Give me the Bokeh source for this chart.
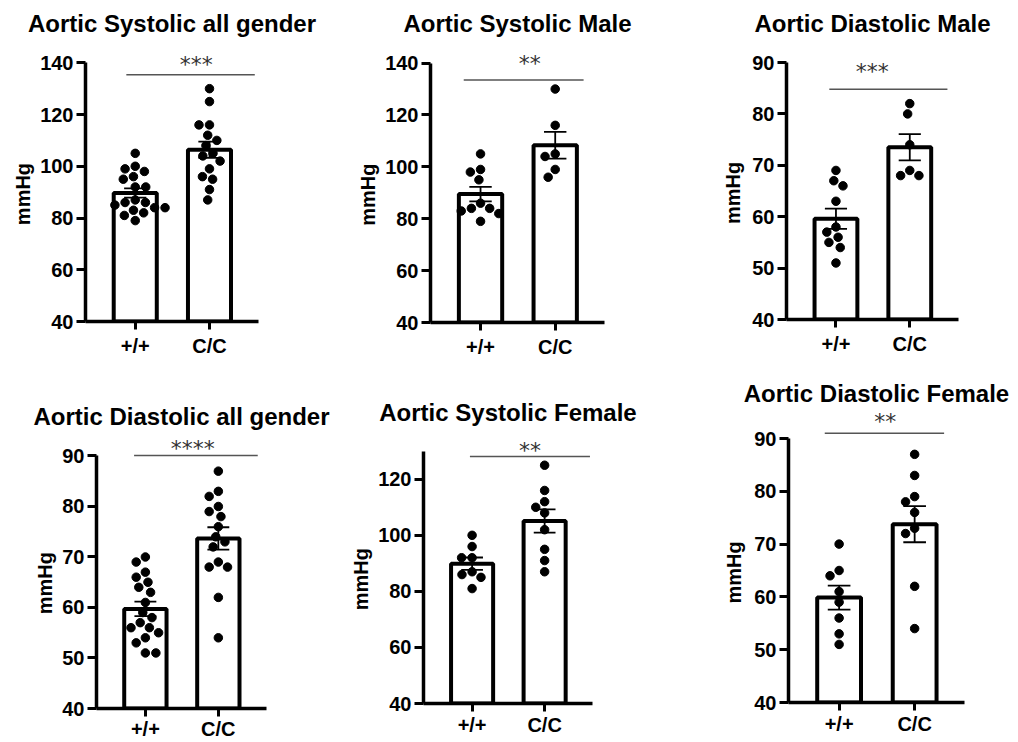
import numpy as np
from bokeh.plotting import figure
from bokeh.models import Range1d, FixedTicker, Label, Title
from bokeh.layouts import row, column
from bokeh.embed import file_html
from bokeh.resources import INLINE

# ---------------- data (mmHg) ----------------
groups = ["+/+", "C/C"]

sys_all_wt = [105, 100, 99, 98, 96, 95, 92, 92, 87, 86, 86, 85, 84, 84, 83, 82, 81, 79]
sys_all_cc = [130, 125, 116, 116, 112, 110, 108, 105, 104, 102, 99, 96, 95, 91, 87]

sys_male_wt = [105, 99, 98, 95, 86, 84, 84, 83, 82, 79]
sys_male_cc = [130, 116, 105, 104, 99, 96]

dia_male_wt = [69, 67, 66, 63, 58, 57, 56, 55, 54, 51]
dia_male_cc = [82, 80, 74, 69, 68, 68]

dia_all_wt = [70, 69, 67, 66, 65, 64, 63, 61, 59, 58, 57, 56, 56, 55, 54, 53, 51, 51]
dia_all_cc = [87, 83, 82, 80, 79, 78, 76, 74, 73, 72, 69, 68, 68, 62, 54]

sys_fem_wt = [100, 96, 92, 92, 87, 86, 85, 81]
sys_fem_cc = [125, 116, 112, 110, 108, 102, 95, 91, 87]

dia_fem_wt = [70, 65, 64, 61, 59, 56, 53, 51]
dia_fem_cc = [87, 83, 79, 78, 76, 73, 72, 62, 54]

titles = ["Aortic Systolic all gender", "Aortic Systolic Male", "Aortic Diastolic Male",
          "Aortic Diastolic all gender", "Aortic Systolic Female", "Aortic Diastolic Female"]
stars = ["***", "**", "***", "****", "**", "**"]
y_label = "mmHg"
sys_ticks = [40, 60, 80, 100, 120, 140]
sys_fem_ticks = [40, 60, 80, 100, 120]
dia_ticks = [40, 50, 60, 70, 80, 90]

# ---------------- layout / style config ----------------
FONT = "Liberation Sans"
X_START, X_END = 0.33, 2.66
BAR_W = 0.58
CAP = 0.15
YLAB_HALF_LEN = 31   # half the length (px) of the rotated "mmHg" label

cfg = [
    dict(wt=sys_all_wt, cc=sys_all_cc, ticks=sys_ticks, ytop=140, W=340, H=370, L=85, R=82, T=42, B=49,
         ppu=2.587, tstand=12, xlab=5, ystand=7, line=(0.88, 2.61, 135.4), star=(1.82, 140.5)),
    dict(wt=sys_male_wt, cc=sys_male_cc, ticks=sys_ticks, ytop=140, W=340, H=370, L=90, R=76, T=42, B=48,
         ppu=2.594, tstand=12, xlab=5, ystand=7, line=(0.775, 2.38, 133.5), star=(1.66, 140.9)),
    dict(wt=dia_male_wt, cc=dia_male_cc, ticks=dia_ticks, ytop=90, W=338, H=370, L=106, R=60, T=42, B=51,
         ppu=5.14, tstand=12, xlab=5, ystand=12, line=(0.91, 2.51, 84.8), star=(1.49, 88.8)),
    dict(wt=dia_all_wt, cc=dia_all_cc, ticks=dia_ticks, ytop=90, W=340, H=372, L=96, R=74, T=65, B=32,
         ppu=5.087, tstand=12, xlab=1, ystand=7, line=(0.845, 2.54, 90.1), star=(1.65, 92.1)),
    dict(wt=sys_fem_wt, cc=sys_fem_cc, ticks=sys_fem_ticks, ytop=130, W=340, H=372, L=83, R=88, T=61, B=39,
         ppu=2.803, tstand=12, xlab=2, ystand=7, line=(0.97, 2.625, 128.1), star=(1.80, 131.3)),
    dict(wt=dia_fem_wt, cc=dia_fem_cc, ticks=dia_ticks, ytop=90, W=338, H=372, L=108, R=54, T=38, B=40,
         ppu=5.28, tstand=4, xlab=2, ystand=13, line=(0.81, 2.39, 91.0), star=(1.61, 93.7)),
]


def swarm(vals, ppu_x, ppu_y, d=10.5):
    """Greedy beeswarm: horizontal offsets (data units) so dots don't overlap."""
    vals = np.asarray(vals, dtype=float)
    order = np.argsort(-vals, kind="stable")
    placed = []
    offs = np.zeros(len(vals))
    for i in order:
        y = vals[i] * ppu_y
        ints = []
        for px, py in placed:
            dy = abs(py - y)
            if dy < d:
                h = np.sqrt(d * d - dy * dy)
                ints.append((px - h, px + h))
        cands = [0.0] + [a for a, b in ints] + [b for a, b in ints]
        cands.sort(key=lambda c: (abs(c), c))
        x = 0.0
        for c in cands:
            if all(not (a + 1e-6 < c < b - 1e-6) for a, b in ints):
                x = c
                break
        placed.append((x, y))
        offs[i] = x / ppu_x
    return offs


def make_panel(title, star_text, c):
    W, H, L, R, T, B = c["W"], c["H"], c["L"], c["R"], c["T"], c["B"]
    frame_w = W - L - R
    frame_h = H - T - B
    ppu_y = c["ppu"]
    y_end = 40 + frame_h / ppu_y
    ppu_x = frame_w / (X_END - X_START)

    p = figure(width=W, height=H, min_border_left=L, min_border_right=R,
               min_border_top=T, min_border_bottom=B,
               x_range=Range1d(X_START, X_END), y_range=Range1d(40, y_end),
               output_backend="svg", toolbar_location=None, title=title)
    p.outline_line_color = None
    p.grid.visible = False
    p.background_fill_color = "white"
    p.border_fill_color = "white"

    p.title.text_font = FONT
    p.title.text_font_size = "24px"
    p.title.text_font_style = "bold"
    p.title.text_color = "black"
    p.title.align = "center"
    p.title.standoff = c["tstand"]

    xs = [1, 2]
    data = [c["wt"], c["cc"]]
    means = [float(np.mean(d)) for d in data]
    sems = [float(np.std(d, ddof=1) / np.sqrt(len(d))) for d in data]

    p.vbar(x=xs, top=means, bottom=40, width=BAR_W, fill_color="white",
           line_color="black", line_width=4)

    for xi, d in zip(xs, data):
        off = swarm(d, ppu_x, ppu_y)
        p.scatter(x=xi + off, y=d, size=8.5, marker="circle",
                  fill_color="black", line_color="black")

    lo = [m - s for m, s in zip(means, sems)]
    hi = [m + s for m, s in zip(means, sems)]
    p.segment(x0=xs, x1=xs, y0=lo, y1=hi, line_color="black", line_width=1.8)
    p.segment(x0=[x - CAP for x in xs], x1=[x + CAP for x in xs], y0=hi, y1=hi,
              line_color="black", line_width=1.8)
    p.segment(x0=[x - CAP for x in xs], x1=[x + CAP for x in xs], y0=lo, y1=lo,
              line_color="black", line_width=1.8)

    lx0, lx1, ly = c["line"]
    p.segment(x0=[lx0], x1=[lx1], y0=[ly], y1=[ly], line_color="#555555", line_width=1.4)
    sx, sy = c["star"]
    p.add_layout(Label(x=sx, y=sy, y_offset=-3, text=star_text, text_align="center",
                       text_baseline="alphabetic", text_font="DejaVu Sans",
                       text_font_size="22px", text_color="#333333"))

    # y axis title, centred on the drawn axis span (not on the whole frame):
    # left-aligned title starts at frame bottom + offset
    span_mid_from_bottom = (c["ytop"] - 40) / 2 * ppu_y - 2
    p.add_layout(Title(text=y_label, align="left", offset=span_mid_from_bottom - YLAB_HALF_LEN,
                       standoff=c["ystand"], text_font=FONT, text_font_size="20px",
                       text_font_style="bold", text_color="black"), "left")

    # y axis
    ya = p.yaxis[0]
    ya.ticker = FixedTicker(ticks=c["ticks"])
    ya.bounds = (40, c["ytop"])
    ya.major_label_standoff = 3
    ya.major_tick_out = 9

    # x axis
    xa = p.xaxis[0]
    xa.ticker = FixedTicker(ticks=xs)
    xa.major_label_overrides = {1: groups[0], 2: groups[1]}
    xa.major_label_standoff = c["xlab"]
    xa.major_label_text_line_height = 1.0
    xa.major_tick_out = 8

    for ax in (xa, ya):
        ax.axis_line_width = 3.5
        ax.axis_line_color = "black"
        ax.major_tick_line_width = 3
        ax.major_tick_line_color = "black"
        ax.major_tick_in = 0
        ax.minor_tick_line_color = None
        ax.major_label_text_font = FONT
        ax.major_label_text_font_size = "20px"
        ax.major_label_text_font_style = "bold"
        ax.major_label_text_color = "black"
    return p


plots = [make_panel(t, s, c) for t, s, c in zip(titles, stars, cfg)]
# wrap every plot separately so the row does not align the plot frames
layout = column(row(*[column(p) for p in plots[:3]]), row(*[column(p) for p in plots[3:]]))

with open("out.html", "w") as f:
    f.write(file_html(layout, INLINE))
